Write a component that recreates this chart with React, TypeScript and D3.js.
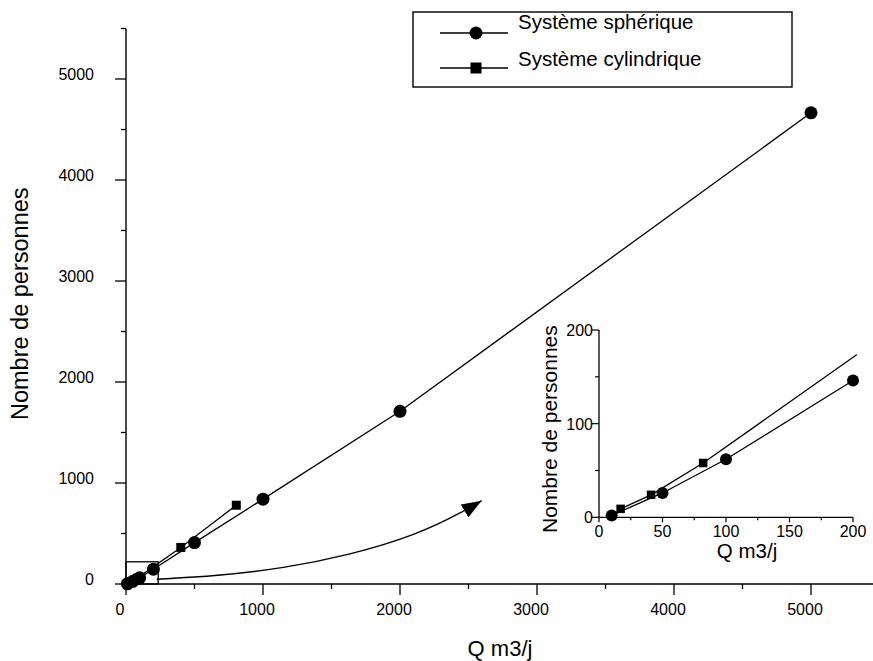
import React from "react";
import * as d3 from "d3";

// Main chart data (Q m3/j vs Nombre de personnes)
const sphQ = [10, 50, 100, 200, 500, 1000, 2000, 5000];
const sphP = [2, 26, 62, 146, 410, 840, 1710, 4665];
const cylQ = [17, 41, 82, 400, 805];
const cylP = [9, 24, 58, 362, 780];

const mainXTicks = [0, 1000, 2000, 3000, 4000, 5000];
const mainXMinor = [500, 1500, 2500, 3500, 4500];
const mainYTicks = [0, 1000, 2000, 3000, 4000, 5000];
const mainYMinor = [500, 1500, 2500, 3500, 4500, 5500];

const insetXTicks = [0, 50, 100, 150, 200];
const insetXMinor = [25, 75, 125, 175];
const insetYTicks = [0, 100, 200];
const insetYMinor = [50, 150];

// zoom region drawn on main chart
const zoomBoxQ = [0, 235];
const zoomBoxP = [0, 220];

// arrow curve (in main data units)
const arrowQ = [224, 662, 1148, 1635, 2122, 2462, 2596];
const arrowP = [47, 79, 155, 287, 485, 716, 825];

const legendLabels = ["Système sphérique", "Système cylindrique"];

const FONT = "'Liberation Sans', Arial, Helvetica, sans-serif";

export default function App() {
  const W = 873;
  const H = 661;
  const x = d3.scaleLinear().domain([0, 5500]).range([126, 879.5]);
  const y = d3.scaleLinear().domain([0, 5500]).range([584, 28.5]);
  const ix = d3.scaleLinear().domain([0, 200]).range([599, 853]);
  const iy = d3.scaleLinear().domain([0, 200]).range([517.3, 330]);

  const sph = sphQ.map((q, i) => [q, sphP[i]] as [number, number]);
  const cyl = cylQ.map((q, i) => [q, cylP[i]] as [number, number]);
  const arrowPts = arrowQ.map((q, i) => [q, arrowP[i]] as [number, number]);

  const mainLine = d3.line<[number, number]>().x((d) => x(d[0])).y((d) => y(d[1]));
  const insetLine = d3.line<[number, number]>().x((d) => ix(d[0])).y((d) => iy(d[1]));
  const arrowLine = d3
    .line<[number, number]>()
    .x((d) => x(d[0]))
    .y((d) => y(d[1]))
    .curve(d3.curveBasis);

  const sq = (cx: number, cy: number, s: number, key: string) => (
    <rect key={key} x={cx - s / 2} y={cy - s / 2} width={s} height={s} fill="#000" />
  );

  const legX0 = 413, legY0 = 12, legX1 = 792, legY1 = 87;

  return (
    <svg
      width={W}
      height={H}
      style={{ position: "absolute", left: 0, top: 0, background: "#fff" }}
      fontFamily={FONT}
    >
      <defs>
        <marker
          id="arrowhead"
          markerUnits="userSpaceOnUse"
          viewBox="0 0 20 15"
          refX={20}
          refY={7.5}
          markerWidth={20}
          markerHeight={15}
          orient="auto"
        >
          <path d="M0,0 L20,7.5 L0,15 Z" fill="#000" />
        </marker>
        <clipPath id="insetClip">
          <rect x={ix(0)} y={iy(205)} width={ix(203) - ix(0)} height={iy(-5) - iy(205)} />
        </clipPath>
      </defs>
      <rect x={0} y={0} width={W} height={H} fill="#fff" />

      {/* Main axes */}
      <line x1={x(0)} x2={W} y1={y(0)} y2={y(0)} stroke="#000" strokeWidth={1.4} />
      <line x1={x(0)} x2={x(0)} y1={y(0)} y2={y(5500)} stroke="#000" strokeWidth={1.4} />
      {mainXTicks.map((t) => (
        <g key={"xt" + t}>
          <line x1={x(t)} x2={x(t)} y1={y(0)} y2={y(0) + 11} stroke="#000" strokeWidth={1.3} />
          <text x={x(t) - 6} y={615} fontSize={16} textAnchor="middle">{t}</text>
        </g>
      ))}
      {mainXMinor.map((t) => (
        <line key={"xm" + t} x1={x(t)} x2={x(t)} y1={y(0)} y2={y(0) + 5} stroke="#000" strokeWidth={1.3} />
      ))}
      {mainYTicks.map((t) => (
        <g key={"yt" + t}>
          <line x1={x(0) - 11} x2={x(0)} y1={y(t)} y2={y(t)} stroke="#000" strokeWidth={1.3} />
          <text x={94} y={y(t) + 1} fontSize={16} textAnchor="end">{t}</text>
        </g>
      ))}
      {mainYMinor.map((t) => (
        <line key={"ym" + t} x1={x(0) - 5} x2={x(0)} y1={y(t)} y2={y(t)} stroke="#000" strokeWidth={1.3} />
      ))}
      <text x={28} y={420} fontSize={23.5} transform="rotate(-90 28 420)">Nombre de personnes</text>
      <text x={500} y={656} fontSize={22} textAnchor="middle">Q m3/j</text>

      {/* zoom box */}
      <rect
        x={x(zoomBoxQ[0])}
        y={y(zoomBoxP[1])}
        width={x(zoomBoxQ[1]) - x(zoomBoxQ[0])}
        height={y(zoomBoxP[0]) - y(zoomBoxP[1])}
        fill="none"
        stroke="#000"
        strokeWidth={1.3}
      />

      {/* main series */}
      <path d={mainLine(sph) || ""} fill="none" stroke="#000" strokeWidth={1.3} />
      <path d={mainLine(cyl) || ""} fill="none" stroke="#000" strokeWidth={1.3} />
      {sph.map((d, i) => (
        <circle key={"ms" + i} cx={x(d[0])} cy={y(d[1])} r={6.5} fill="#000" />
      ))}
      {cyl.map((d, i) => sq(x(d[0]), y(d[1]), 9, "mc" + i))}

      {/* arrow */}
      <path d={arrowLine(arrowPts) || ""} fill="none" stroke="#000" strokeWidth={1.4} markerEnd="url(#arrowhead)" />

      {/* Inset */}
      <line x1={ix(0)} x2={ix(200)} y1={iy(0)} y2={iy(0)} stroke="#000" strokeWidth={1.3} />
      <line x1={ix(0)} x2={ix(0)} y1={iy(0)} y2={iy(200)} stroke="#000" strokeWidth={1.3} />
      {insetXTicks.map((t) => (
        <g key={"ixt" + t}>
          <line x1={ix(t)} x2={ix(t)} y1={iy(0)} y2={iy(0) + 5} stroke="#000" strokeWidth={1.2} />
          <text x={ix(t)} y={537} fontSize={16} textAnchor="middle">{t}</text>
        </g>
      ))}
      {insetXMinor.map((t) => (
        <line key={"ixm" + t} x1={ix(t)} x2={ix(t)} y1={iy(0)} y2={iy(0) + 3} stroke="#000" strokeWidth={1.2} />
      ))}
      {insetYTicks.map((t) => (
        <g key={"iyt" + t}>
          <line x1={ix(0) - 7} x2={ix(0)} y1={iy(t)} y2={iy(t)} stroke="#000" strokeWidth={1.2} />
          <text x={593} y={iy(t) + 6} fontSize={16} textAnchor="end">{t}</text>
        </g>
      ))}
      {insetYMinor.map((t) => (
        <line key={"iym" + t} x1={ix(0) - 4} x2={ix(0)} y1={iy(t)} y2={iy(t)} stroke="#000" strokeWidth={1.2} />
      ))}
      <text x={557} y={533} fontSize={21} transform="rotate(-90 557 533)">Nombre de personnes</text>
      <text x={747} y={558} fontSize={20.5} textAnchor="middle">Q m3/j</text>
      <g clipPath="url(#insetClip)">
        <path d={insetLine(sph) || ""} fill="none" stroke="#000" strokeWidth={1.3} />
        <path d={insetLine(cyl) || ""} fill="none" stroke="#000" strokeWidth={1.3} />
      </g>
      {sph.filter((d) => d[0] <= 200).map((d, i) => (
        <circle key={"is" + i} cx={ix(d[0])} cy={iy(d[1])} r={6} fill="#000" />
      ))}
      {cyl.filter((d) => d[0] <= 200).map((d, i) => sq(ix(d[0]), iy(d[1]), 8.5, "ic" + i))}

      {/* Legend */}
      <rect x={legX0} y={legY0} width={legX1 - legX0} height={legY1 - legY0} fill="#fff" stroke="#000" strokeWidth={1.4} />
      {legendLabels.map((lab, i) => {
        const ly = i === 0 ? 33 : 68;
        const ty = i === 0 ? 29 : 66;
        return (
          <g key={"leg" + i}>
            <line x1={440} x2={508} y1={ly} y2={ly} stroke="#000" strokeWidth={1.3} />
            {i === 0 ? <circle cx={476} cy={ly} r={6.5} fill="#000" /> : sq(476, ly, 11, "legsq")}
            <text x={518} y={ty} fontSize={20.5}>{lab}</text>
          </g>
        );
      })}
    </svg>
  );
}
